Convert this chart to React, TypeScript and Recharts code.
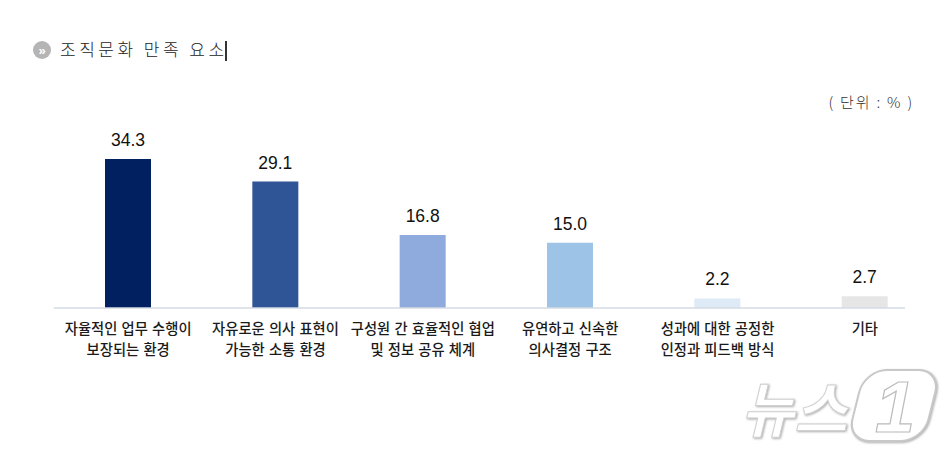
import React from "react";
import { BarChart, Bar, XAxis, YAxis, Cell, LabelList } from "recharts";

const firstLines = ["자율적인 업무 수행이", "자유로운 의사 표현이", "구성원 간 효율적인 협업", "유연하고 신속한", "성과에 대한 공정한", "기타"];
const secondLines = ["보장되는 환경", "가능한 소통 환경", "및 정보 공유 체계", "의사결정 구조", "인정과 피드백 방식", ""];
const values = [34.3, 29.1, 16.8, 15.0, 2.2, 2.7];
const colors = ["#002060", "#2F5597", "#8FAADC", "#9DC3E6", "#DEEAF6", "#E7E6E6"];
const title = "조직문화 만족 요소";
const unit = "( 단위 : % )";

const data = firstLines.map((first, i) => ({ key: i, first, second: secondLines[i], value: values[i] }));
const KR = "'Noto Sans CJK KR', sans-serif";

function CategoryTick({ x, y, payload }: any) {
  const row = data[payload.value];
  return (
    <text x={x} textAnchor="middle" fontFamily={KR} fontSize={14.3} fontWeight={500} wordSpacing={1} fill="#1a1a1a">
      <tspan x={x + 0.5} y={y + 19.5}>{row.first}</tspan>
      <tspan x={x + 0.5} y={y + 40.5}>{row.second}</tspan>
    </text>
  );
}

export default function App() {
  return (
    <div style={{ position: "absolute", left: 0, top: 0, width: 952, height: 457, background: "#fff", overflow: "hidden" }}>
      <BarChart
        width={952}
        height={457}
        data={data}
        margin={{ top: 134.2, right: 14, bottom: 0, left: 54 }}
        barCategoryGap={0}
      >
        <XAxis dataKey="key" axisLine={false} tickLine={false} tick={<CategoryTick />} height={149} interval={0} tickMargin={0} />
        <YAxis hide domain={[0, 40]} />
        <Bar dataKey="value" barSize={46} isAnimationActive={false}>
          {data.map((d, i) => <Cell key={d.key} fill={colors[i]} />)}
          <LabelList
            dataKey="value"
            position="top"
            offset={13}
            formatter={(v: number) => v.toFixed(1)}
            style={{ fontFamily: "'Liberation Sans', Arial, sans-serif", fontSize: 17.5, fill: "#111" }}
          />
        </Bar>
      </BarChart>
      <svg width={952} height={457} style={{ position: "absolute", left: 0, top: 0, pointerEvents: "none" }}>
        <line x1={54} x2={905} y1={308} y2={308} stroke="#D5DAE3" strokeWidth={1.3} />
        <circle cx={42} cy={50} r={9} fill="#B5B5B5" />
        <text x={42} y={54.5} textAnchor="middle" fontSize={13} fontWeight={700} fill="#fff" fontFamily="'Liberation Sans', sans-serif">»</text>
        <text x={60} y={56} fontFamily={KR} fontWeight={300} fontSize={17} letterSpacing={3.5} fill="#222">{title}</text>
        <line x1={226} x2={226} y1={41} y2={61} stroke="#000" strokeWidth={1.6} />
        <text x={914} y={108} textAnchor="end" fontFamily={KR} fontWeight={300} fontSize={15} letterSpacing={1.8} fill="#333">{unit}</text>
        <g style={{ filter: "drop-shadow(1px 1px 1px rgba(120,120,120,0.6))" }}>
          <text x={741} y={432} fontFamily={KR} fontWeight={700} fontSize={60} fontStyle="italic" fill="#fff" stroke="#D0D0D0" strokeWidth={1} textLength={106} lengthAdjust="spacingAndGlyphs">뉴스</text>
          <rect x={851} y={370} width={76} height={71} rx={22} fill="#fff" stroke="#C8C8C8" strokeWidth={2} transform="skewX(-14) translate(106 0)" />
          <text x={895} y={432} textAnchor="middle" fontFamily="'Liberation Sans', sans-serif" fontWeight={700} fontStyle="italic" fontSize={72} fill="#fff" stroke="#BBBBBB" strokeWidth={1.2}>1</text>
        </g>
      </svg>
    </div>
  );
}
